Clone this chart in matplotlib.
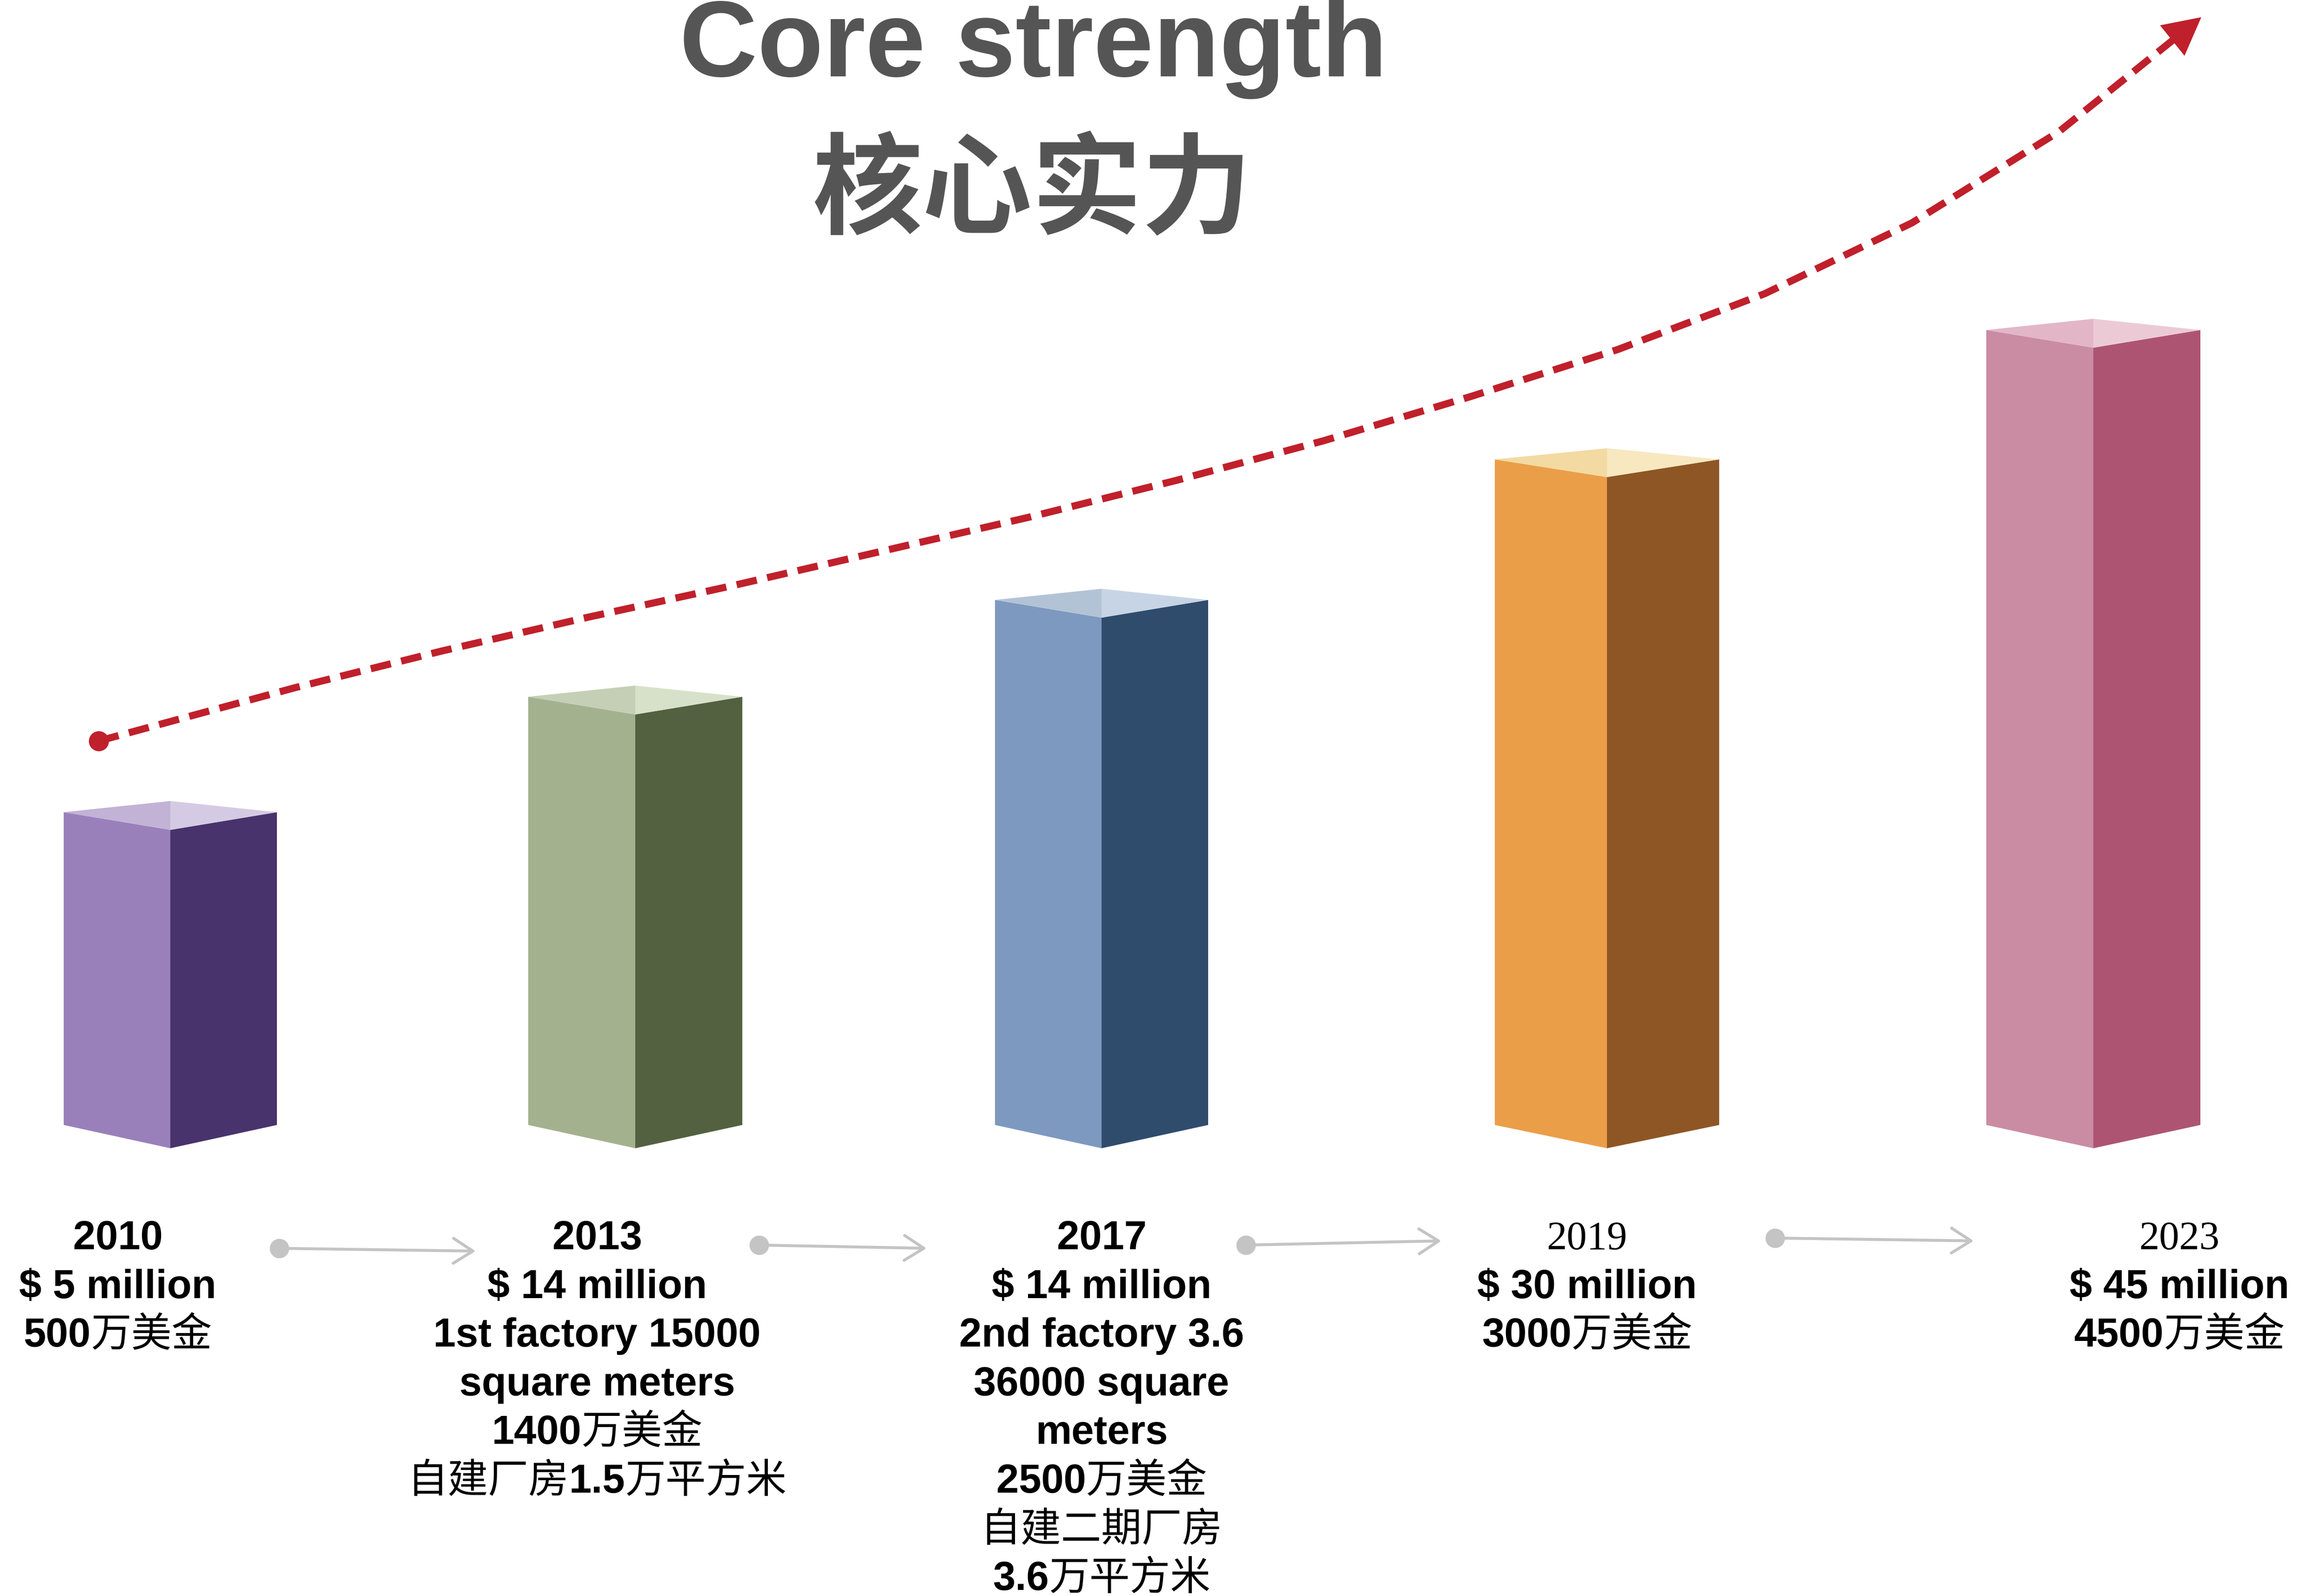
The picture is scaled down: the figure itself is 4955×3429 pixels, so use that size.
"""Core strength / 核心实力 -- 3D-style column timeline with a dashed growth arrow."""
import matplotlib
matplotlib.use("Agg")
import matplotlib.pyplot as plt  # noqa: E402
import numpy as np  # noqa: E402

# ---- data ----
years = ["2010", "2013", "2017", "2019", "2023"]
usd_million = [5, 14, 14, 30, 45]
cny_text = ["500万美金", "1400万美金", "2500万美金", "3000万美金", "4500万美金"]
notes_en = [[], ["1st factory 15000", "square meters"],
            ["2nd factory 3.6", "36000 square", "meters"], [], []]
notes_cn = [[], ["自建厂房1.5万平方米"], ["自建二期厂房", "3.6万平方米"], [], []]
bar_height = [672, 920, 1128, 1430, 1708]      # drawn column height (decorative, not to scale)
trend_x = [212, 632, 948, 1264, 1580, 1896, 2212, 2528, 2844, 3160, 3476, 3792, 4108, 4424, 4730]
trend_y = [1593, 1479, 1400, 1327, 1258, 1185, 1112, 1033, 948, 853, 752, 632, 480, 284, 38]

# ---- layout / style ----
W, H = 4955, 3430
bar_cx = [366, 1365, 2367, 3453, 4498]
bar_half = [229, 230, 229, 241, 230]
BASE_Y, BOT_TIP, TOP_FRONT, TOP_BACK = 2418, 50, 38, 24
face_colors = [  # left, right, top-left, top-right
    ("#9a80ba", "#48336c", "#c2b2d6", "#d5cae4"),
    ("#a4b18f", "#536140", "#c5cfb5", "#d7e1c9"),
    ("#7d99bf", "#2f4c6d", "#b3c3d6", "#c7d4e5"),
    ("#eb9e48", "#8e5624", "#f3daa2", "#f7e8c0"),
    ("#ca8ca2", "#ae5473", "#e2b6c6", "#ebcad6"),
]
label_x = [253, 1283, 2367, 3410, 4683]
LABEL_Y0, LINE_STEP = 2653, 104.6     # centre of first text line, line pitch (px)
BASE_OFF = 31                          # baseline sits this far below the line centre
year_serif = [False, False, False, True, True]
arrow_start = [(600, 2683), (1631, 2676), (2677, 2676), (3814, 2661)]
arrow_end = [(1022, 2689), (1991, 2683), (3097, 2667), (4241, 2667)]
RED = "#c0202b"
GREY = "#c4c4c4"
LATIN = ["Liberation Sans", "DejaVu Sans"]
CJK = ["Noto Sans CJK SC", "DejaVu Sans"]
FS = 62.5

fig = plt.figure(figsize=(W / 100, H / 100), dpi=100)
ax = fig.add_axes([0, 0, 1, 1])
ax.set_xlim(0, W)
ax.set_ylim(H, 0)
ax.axis("off")
renderer = fig.canvas.get_renderer()


def is_cjk(ch):
    return ord(ch) > 0x2e80


def mixed_line(x, yc, s):
    """Centre a line at x: latin runs in bold sans, CJK runs in medium CJK sans."""
    runs = []
    for ch in s:
        c = is_cjk(ch)
        if runs and runs[-1][1] == c:
            runs[-1][0] += ch
        else:
            runs.append([ch, c])
    arts = []
    for seg, c in runs:
        t = ax.text(0, yc + BASE_OFF, seg, ha="left", va="baseline", fontsize=FS,
                    family=CJK if c else LATIN, weight="medium" if c else "bold",
                    color="black")
        arts.append(t)
    widths = [t.get_window_extent(renderer).width for t in arts]
    cur = x - sum(widths) / 2
    for t, w in zip(arts, widths):
        t.set_x(cur)
        cur += w


# columns
for cx, hw, h, (cl, cr, ctl, ctr) in zip(bar_cx, bar_half, bar_height, face_colors):
    top = BASE_Y - h
    ax.fill([cx - hw, cx, cx, cx - hw], [top, top + TOP_FRONT, BASE_Y + BOT_TIP, BASE_Y],
            color=cl, lw=0)
    ax.fill([cx, cx + hw, cx + hw, cx], [top + TOP_FRONT, top, BASE_Y, BASE_Y + BOT_TIP],
            color=cr, lw=0)
    ax.fill([cx - hw, cx, cx], [top, top - TOP_BACK, top + TOP_FRONT], color=ctl, lw=0)
    ax.fill([cx, cx + hw, cx], [top - TOP_BACK, top, top + TOP_FRONT], color=ctr, lw=0)

# dashed growth arrow
d = np.array([trend_x[-1] - trend_x[-2], trend_y[-1] - trend_y[-2]], float)
d /= np.hypot(*d)
xs = trend_x[:-1] + [trend_x[-1] - 60 * d[0]]
ys = trend_y[:-1] + [trend_y[-1] - 60 * d[1]]
ax.plot(xs, ys, color=RED, lw=11, dashes=(2.9, 1.5), dash_capstyle="butt",
        solid_joinstyle="round")
ax.annotate("", xy=(trend_x[-1], trend_y[-1]),
            xytext=(trend_x[-1] - 80 * d[0], trend_y[-1] - 80 * d[1]),
            arrowprops=dict(arrowstyle="-|>,head_length=0.8,head_width=0.42",
                            mutation_scale=72, color=RED, lw=0, shrinkA=0, shrinkB=0))
ax.plot(trend_x[0], trend_y[0], "o", color=RED, ms=30, mec=RED)

# grey connector arrows between labels
for (x0, y0), (x1, y1) in zip(arrow_start, arrow_end):
    ax.annotate("", xy=(x1, y1), xytext=(x0, y0),
                arrowprops=dict(arrowstyle="->,head_length=0.55,head_width=0.35",
                                mutation_scale=55, color=GREY, lw=4.5,
                                shrinkA=0, shrinkB=0))
    ax.plot(x0, y0, "o", color=GREY, ms=29, mec=GREY)

# labels under each column
for i, yr in enumerate(years):
    x = label_x[i]
    if year_serif[i]:
        ax.text(x, LABEL_Y0 + BASE_OFF, yr, ha="center", va="baseline", fontsize=FS,
                family=["Liberation Serif", "DejaVu Serif"], color="black")
    else:
        ax.text(x, LABEL_Y0 + BASE_OFF, yr, ha="center", va="baseline", fontsize=FS,
                family=LATIN, weight="bold", color="black")
    lines = [f"$ {usd_million[i]} million"] + notes_en[i] + [cny_text[i]] + notes_cn[i]
    for k, s in enumerate(lines, start=1):
        mixed_line(x, LABEL_Y0 + k * LINE_STEP, s)

# title
ax.text(2220, 164, "Core strength", ha="center", va="baseline", fontsize=167,
        family=LATIN, weight="bold", color="#555555")
ax.text(2218, 414, "核心实力", ha="center", va="center", fontsize=170,
        family=CJK, weight="bold", color="#555555")

fig.savefig("out.png", dpi=100, facecolor="white")
